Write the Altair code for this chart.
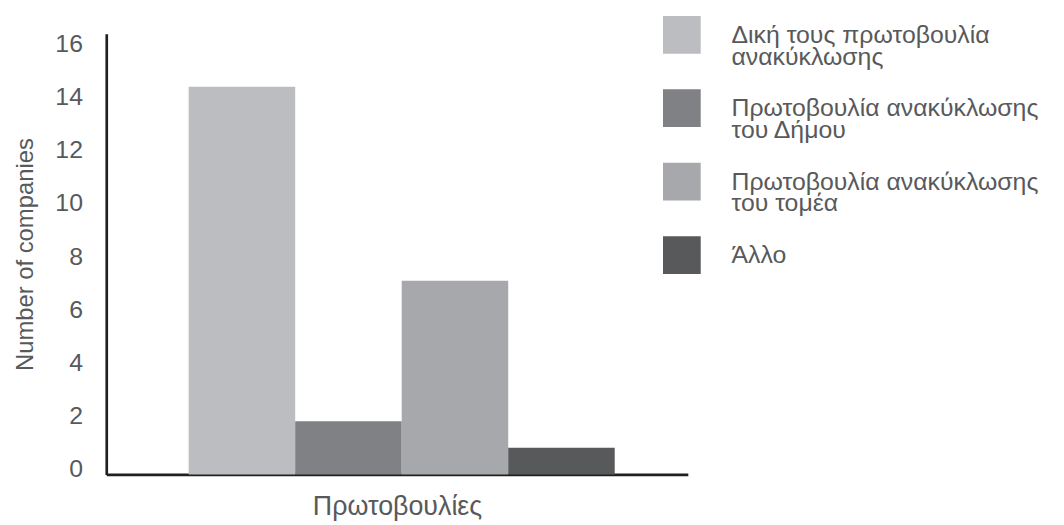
import altair as alt
import pandas as pd

categories = [
    "Δική τους πρωτοβουλία ανακύκλωσης",
    "Πρωτοβουλία ανακύκλωσης του Δήμου",
    "Πρωτοβουλία ανακύκλωσης του τομέα",
    "Άλλο",
]
legend_lines = [
    ["Δική τους πρωτοβουλία", "ανακύκλωσης"],
    ["Πρωτοβουλία ανακύκλωσης", "του Δήμου"],
    ["Πρωτοβουλία ανακύκλωσης", "του τομέα"],
    ["Άλλο"],
]
values = [14.6, 2.0, 7.3, 1.0]
colors = ["#BCBDC0", "#808184", "#A7A8AB", "#58595B"]
y_ticks = [0, 2, 4, 6, 8, 10, 12, 14, 16]

df = pd.DataFrame({"cat": categories, "val": values})

def js_arr(lines):
    return "[" + ",".join("'" + s + "'" for s in lines) + "]"

expr = ""
for c, lines in zip(categories, legend_lines):
    expr += f"datum.label == '{c}' ? {js_arr(lines)} : "
expr += "datum.label"

FONT = "Liberation Sans"
TXT = "#58595B"

chart = (
    alt.Chart(df)
    .mark_bar()
    .encode(
        x=alt.X(
            "cat:N",
            sort=categories,
            scale=alt.Scale(paddingInner=0, paddingOuter=0.73, align=0.53),
            axis=alt.Axis(
                title="Πρωτοβουλίες",
                labels=False,
                ticks=False,
                tickSize=0,
                domainColor="#231F20",
                domainWidth=2.7,
                titleFont=FONT,
                titleFontSize=27,
                titleFontWeight="normal",
                titleColor=TXT,
                titlePadding=19,
            ),
        ),
        y=alt.Y(
            "val:Q",
            scale=alt.Scale(domain=[0, 16.6], nice=False, zero=True),
            axis=alt.Axis(
                title="Number of companies",
                values=y_ticks,
                grid=False,
                ticks=False,
                tickSize=0,
                labelPadding=24,
                labelOffset=-6,
                labelFont=FONT,
                labelFontSize=25,
                labelColor=TXT,
                domainColor="#231F20",
                domainWidth=2.7,
                titleFont=FONT,
                titleFontSize=24,
                titleFontWeight="normal",
                titleColor=TXT,
                titlePadding=17,
            ),
        ),
        color=alt.Color(
            "cat:N",
            sort=categories,
            scale=alt.Scale(domain=categories, range=colors),
            legend=alt.Legend(
                title=None,
                orient="none",
                legendX=561,
                legendY=-18,
                padding=0,
                symbolType="square",
                symbolSize=1444,
                symbolStrokeWidth=0,
                symbolOpacity=1,
                labelFont=FONT,
                labelFontSize=25,
                labelColor=TXT,
                labelLimit=500,
                labelOffset=31,
                rowPadding=20,
                labelExpr=expr,
            ),
        ),
    )
    .properties(
        width=586,
        height=444,
        autosize=alt.AutoSizeParams(type="none"),
        padding={"left": 99, "top": 24, "right": 371, "bottom": 49},
    )
    .configure(style={"guide-label": {"lineHeight": 22}})
    .configure_view(stroke=None)
)

chart.save("out.html", embed_options={"renderer": "svg", "actions": False})
